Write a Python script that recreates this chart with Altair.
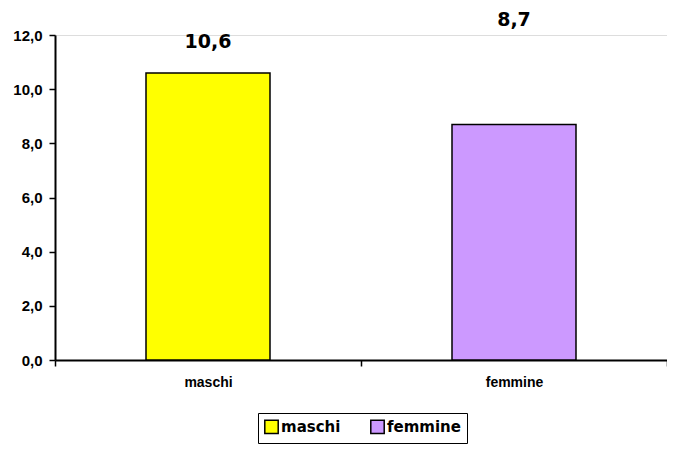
import altair as alt
import pandas as pd

categories = ["maschi", "femmine"]
values = [10.6, 8.7]
labels = ["10,6", "8,7"]
colors = ["#FFFF00", "#CC99FF"]

df = pd.DataFrame({"sesso": categories, "valore": values, "etichetta": labels})

x_enc = alt.X("sesso:N", sort=categories, title=None,
              scale=alt.Scale(paddingInner=0, paddingOuter=0),
              axis=alt.Axis(labelAngle=0, labelFont="Liberation Sans", labelFontWeight="bold",
                            labelFontSize=14, labelColor="black", tickBand="extent",
                            tickSize=6, tickColor="black", tickWidth=1.5,
                            domainColor="black", domainWidth=2, labelPadding=9, grid=False))

bars = alt.Chart(df).mark_bar(size=124, stroke="black", strokeWidth=1.5).encode(
    x=x_enc,
    y=alt.Y("valore:Q", title=None,
            scale=alt.Scale(domain=[0, 12], nice=False),
            axis=alt.Axis(values=[0, 2, 4, 6, 8, 10, 12], grid=False,
                          labelExpr="replace(format(datum.value, '.1f'), '.', ',')",
                          labelFont="Liberation Sans", labelFontWeight="bold",
                          labelFontSize=15, labelColor="black", tickSize=6,
                          tickColor="black", tickWidth=1.5, domainColor="black",
                          domainWidth=2, labelPadding=7)),
    color=alt.Color("sesso:N", sort=categories,
                    scale=alt.Scale(domain=categories, range=colors),
                    legend=alt.Legend(title=None, orient="none", legendX=203, legendY=378,
                                      direction="horizontal", symbolType="square",
                                      symbolSize=180, symbolStrokeColor="black",
                                      symbolStrokeWidth=1.5, labelFont="DejaVu Sans",
                                      labelFontWeight="bold", labelFontSize=15,
                                      labelColor="black", labelOffset=2,
                                      columnPadding=26, strokeColor="black",
                                      padding=6, fillColor="white")),
)

text_m = alt.Chart(df).transform_filter(alt.datum.sesso == "maschi").mark_text(
    font="DejaVu Sans", fontWeight="bold", fontSize=19, color="black", dy=-31
).encode(x=alt.X("sesso:N", sort=categories), y=alt.Y("valore:Q"), text="etichetta:N")

text_f = alt.Chart(df).transform_filter(alt.datum.sesso == "femmine").mark_text(
    font="DejaVu Sans", fontWeight="bold", fontSize=19, color="black", dy=-15
).encode(x=alt.X("sesso:N", sort=categories), y=alt.datum(12), text="etichetta:N")

chart = alt.layer(bars, text_m, text_f).properties(
    width=612, height=325,
    autosize=alt.AutoSizeParams(type="none"),
    padding={"left": 47, "top": 27, "right": 0, "bottom": 87},
).configure_view(stroke=None).configure(background="white")

chart.save("out.html", embed_options={"renderer": "svg", "actions": False})
